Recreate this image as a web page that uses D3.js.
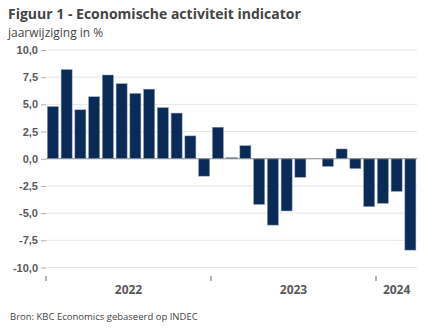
<!DOCTYPE html>
<html>
<head>
<meta charset="utf-8">
<script src="https://cdn.jsdelivr.net/npm/d3@7"></script>
<style>
  body { margin: 0; background: #fff; }
  svg { font-family: "Open Sans", "Noto Sans", sans-serif; }
  .title { font-size: 14px; font-weight: bold; fill: #444; }
  .subtitle { font-size: 12px; fill: #444; }
  .source { font-size: 9.5px; fill: #444; }
  .yaxis text { font-size: 11px; font-weight: bold; fill: #595959; }
  .xlabel { font-size: 12px; font-weight: bold; fill: #595959; }
</style>
</head>
<body>
<script>
// maandelijkse jaarwijziging, jan 2022 - mrt 2024
const months = [
  "2022-01", "2022-02", "2022-03", "2022-04", "2022-05", "2022-06",
  "2022-07", "2022-08", "2022-09", "2022-10", "2022-11", "2022-12",
  "2023-01", "2023-02", "2023-03", "2023-04", "2023-05", "2023-06",
  "2023-07", "2023-08", "2023-09", "2023-10", "2023-11", "2023-12",
  "2024-01", "2024-02", "2024-03"
];
const values = [
  4.8, 8.2, 4.5, 5.7, 7.7, 6.9, 6.0, 6.4, 4.7, 4.2, 2.1, -1.6,
  2.9, 0.1, 1.2, -4.2, -6.1, -4.8, -1.7, 0.0, -0.7, 0.9, -0.9, -4.4,
  -4.1, -3.0, -8.4
];
const years = ["2022", "2023", "2024"];
const yTicks = [10, 7.5, 5, 2.5, 0, -2.5, -5, -7.5, -10];

const width = 432, height = 334;
const margin = {left: 46, right: 15, top: 50, bottom: 66};

const data = months.map((m, i) => ({month: m, value: values[i]}));

const svg = d3.select("body")
  .append("svg")
  .attr("width", width)
  .attr("height", height);

const x = d3.scaleBand()
  .domain(months)
  .range([margin.left, margin.left + 13.75 * 27])
  .paddingInner(0.2)
  .paddingOuter(0.1);

const y = d3.scaleLinear()
  .domain([-10, 10])
  .range([267.5, 50]);

const fmt = d => d3.format(".1f")(d).replace(".", ",").replace("−", "-");

svg.append("text")
  .attr("class", "title")
  .attr("x", 8)
  .attr("y", 19)
  .text("Figuur 1 - Economische activiteit indicator");

svg.append("text")
  .attr("class", "subtitle")
  .attr("x", 8)
  .attr("y", 37)
  .text("jaarwijziging in %");

const x0 = x.range()[0], x1 = x.range()[1];

// gridlines
svg.append("g")
  .selectAll("line")
  .data(yTicks.filter(d => d != 0))
  .enter()
  .append("line")
  .attr("x1", x0)
  .attr("x2", x1)
  .attr("y1", d => y(d))
  .attr("y2", d => y(d))
  .attr("stroke", "#e6e6e6")
  .attr("stroke-width", 1);

const yAxis = d3.axisLeft(y)
  .tickValues(yTicks)
  .tickSize(5)
  .tickPadding(3)
  .tickFormat(fmt);

svg.append("g")
  .attr("class", "yaxis")
  .attr("transform", "translate(" + x0 + ",0)")
  .call(yAxis)
  .call(g => g.select(".domain").remove())
  .call(g => g.selectAll("line").attr("stroke", "#aaa"));

svg.selectAll("rect.bar")
  .data(data)
  .enter()
  .append("rect")
  .attr("class", "bar")
  .attr("x", d => x(d.month))
  .attr("width", x.bandwidth())
  .attr("y", d => y(Math.max(0, d.value)))
  .attr("height", d => Math.abs(y(d.value) - y(0)))
  .attr("fill", "#0a2a57")
  .attr("stroke", "#8a9ab3")
  .attr("stroke-width", 0.5);

// nullijn
svg.append("line")
  .attr("x1", x0)
  .attr("x2", x1)
  .attr("y1", y(0))
  .attr("y2", y(0))
  .attr("stroke", "#888")
  .attr("stroke-width", 1);

// jaar-ticks
const yearStarts = years.map(yr => x(yr + "-01") - x.step() * x.paddingOuter());
svg.selectAll("line.ytick")
  .data(yearStarts)
  .enter()
  .append("line")
  .attr("class", "ytick")
  .attr("x1", d => d)
  .attr("x2", d => d)
  .attr("y1", 276)
  .attr("y2", 281)
  .attr("stroke", "#666");

svg.selectAll("text.xlabel")
  .data(years)
  .enter()
  .append("text")
  .attr("class", "xlabel")
  .attr("x", (yr, i) => {
    const ms = months.filter(m => m.startsWith(yr));
    const a = x(ms[0]), b = x(ms[ms.length - 1]) + x.bandwidth();
    return (a + b) / 2;
  })
  .attr("y", 294)
  .attr("text-anchor", "middle")
  .text(d => d);

svg.append("text")
  .attr("class", "source")
  .attr("x", 10)
  .attr("y", 320)
  .text("Bron: KBC Economics gebaseerd op INDEC");
</script>
</body>
</html>
